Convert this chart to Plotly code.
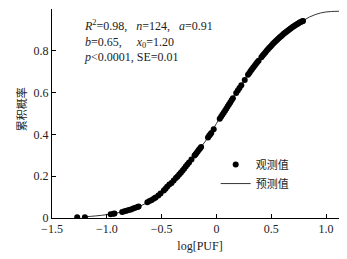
import plotly.graph_objects as go

obs_x = [-1.27, -1.20, -0.965, -0.94, -0.93, -0.86, -0.84, -0.82, -0.80, -0.78, -0.76, -0.74,
         -0.72, -0.71, -0.63, -0.61, -0.59, -0.57, -0.555, -0.53, -0.51, -0.48, -0.465, -0.45,
         -0.43, -0.41, -0.39, -0.37, -0.355, -0.34, -0.325, -0.31, -0.295, -0.28, -0.265, -0.25,
         -0.228, -0.20, -0.19, -0.18, -0.17, -0.16, -0.15, -0.14, -0.077, -0.067, -0.057, -0.047,
         -0.025, 0.03, 0.042, 0.054, 0.066, 0.078, 0.09, 0.102, 0.114, 0.126, 0.138, 0.15,
         0.18, 0.195, 0.21, 0.227, 0.258, 0.288, 0.30, 0.312, 0.324, 0.336, 0.348, 0.36,
         0.372, 0.384, 0.41, 0.422, 0.434, 0.446, 0.458, 0.47, 0.482, 0.494, 0.506, 0.518,
         0.53, 0.542, 0.554, 0.566, 0.578, 0.59, 0.602, 0.614, 0.626, 0.638, 0.65, 0.662,
         0.674, 0.686, 0.698, 0.71, 0.722, 0.734, 0.746, 0.758, 0.77, 0.782, 0.79]
obs_y = [0.003, 0.003, 0.018, 0.020, 0.022, 0.029, 0.032, 0.035, 0.038, 0.041, 0.045, 0.049,
         0.053, 0.055, 0.075, 0.081, 0.086, 0.093, 0.098, 0.108, 0.117, 0.132, 0.140, 0.150,
         0.160, 0.168, 0.180, 0.191, 0.199, 0.208, 0.217, 0.226, 0.236, 0.246, 0.256, 0.266,
         0.280, 0.299, 0.305, 0.312, 0.319, 0.326, 0.333, 0.340, 0.385, 0.393, 0.400, 0.407,
         0.425, 0.475, 0.484, 0.494, 0.503, 0.513, 0.523, 0.533, 0.543, 0.553, 0.563, 0.573,
         0.598, 0.610, 0.622, 0.635, 0.660, 0.685, 0.694, 0.703, 0.712, 0.720, 0.729, 0.737,
         0.745, 0.752, 0.769, 0.777, 0.785, 0.792, 0.800, 0.807, 0.814, 0.821, 0.828, 0.835,
         0.841, 0.847, 0.853, 0.859, 0.865, 0.870, 0.876, 0.881, 0.886, 0.891, 0.896, 0.901,
         0.906, 0.910, 0.915, 0.919, 0.923, 0.927, 0.931, 0.935, 0.938, 0.941, 0.943]

# Predicted curve
pred_x = [-1.22, -1.1, -1.0, -0.9, -0.8, -0.7, -0.6, -0.5, -0.4, -0.3, -0.2, -0.1, 0.0,
          0.1, 0.2, 0.3, 0.4, 0.5, 0.6, 0.7, 0.8, 0.85, 0.9, 0.95, 1.0, 1.05, 1.1, 1.2]
pred_y = [0.005, 0.010, 0.016, 0.025, 0.037, 0.056, 0.083, 0.122, 0.172, 0.232, 0.300, 0.368,
          0.452, 0.540, 0.615, 0.694, 0.760, 0.825, 0.875, 0.915, 0.947, 0.962, 0.973, 0.981,
          0.986, 0.988, 0.989, 0.989]

y_tickvals = [0, 0.2, 0.4, 0.6, 0.8, 1.0]
y_ticktext = ["0", "0.2", "0.4", "0.6", "0.8", ""]
x_tickvals = [-1.5, -1.0, -0.5, 0, 0.5, 1.0]
x_ticktext = ["\u22121.5", "\u22121.0", "\u22120.5", "0", "0.5", "1.0"]

serif = "Times New Roman"
cjk = "Noto Sans CJK SC"

fig = go.Figure()
fig.add_trace(go.Scatter(x=obs_x, y=obs_y, mode="markers", name="观测值",
                         marker=dict(color="black", size=6)))
fig.add_trace(go.Scatter(x=pred_x, y=pred_y, mode="lines", name="预测值",
                         line=dict(color="black", width=0.8, shape="spline")))

fig.add_annotation(
    xref="paper", yref="paper", x=0.10, y=0.965, xanchor="left", yanchor="top",
    align="left", showarrow=False,
    text=("<i>R</i><sup>2</sup>=0.98,   <i>n</i>=124,   <i>a</i>=0.91<br>"
          "<i>b</i>=0.65,     <i>x</i><sub>0</sub>=1.20<br>"
          "<i>p</i>&lt;0.0001, SE=0.01"),
    font=dict(family=serif, size=12, color="#222"))

# y-axis title placed as a rotated annotation
fig.add_annotation(
    xref="paper", yref="paper", x=-0.105, y=0.52, xanchor="center", yanchor="middle",
    textangle=-90, showarrow=False, text="累积概率",
    font=dict(family=cjk, size=11, color="#222"))

fig.update_layout(
    width=347, height=259,
    margin=dict(l=44, r=7, t=1, b=49),
    paper_bgcolor="white", plot_bgcolor="white",
    showlegend=True,
    legend=dict(x=0.553, y=0.325, xanchor="left", yanchor="top",
                font=dict(family=cjk, size=11, color="#222"),
                bgcolor="rgba(0,0,0,0)", itemwidth=30, tracegroupgap=2),
    xaxis=dict(range=[-1.5, 1.2], tickvals=x_tickvals, ticktext=x_ticktext,
               ticks="inside", ticklen=4, tickcolor="black", showgrid=False,
               zeroline=False, showline=True, linecolor="black", linewidth=1,
               tickfont=dict(family=serif, size=12, color="#222"),
               title=dict(text="log[PUF]", font=dict(family=serif, size=12, color="#222"),
                          standoff=6)),
    yaxis=dict(range=[0, 1.0], tickvals=y_tickvals, ticktext=y_ticktext,
               ticks="inside", ticklen=4, tickcolor="black", showgrid=False,
               zeroline=False, showline=True, linecolor="black", linewidth=1,
               tickfont=dict(family=serif, size=12, color="#222")),
)

fig.write_html("out.html")
